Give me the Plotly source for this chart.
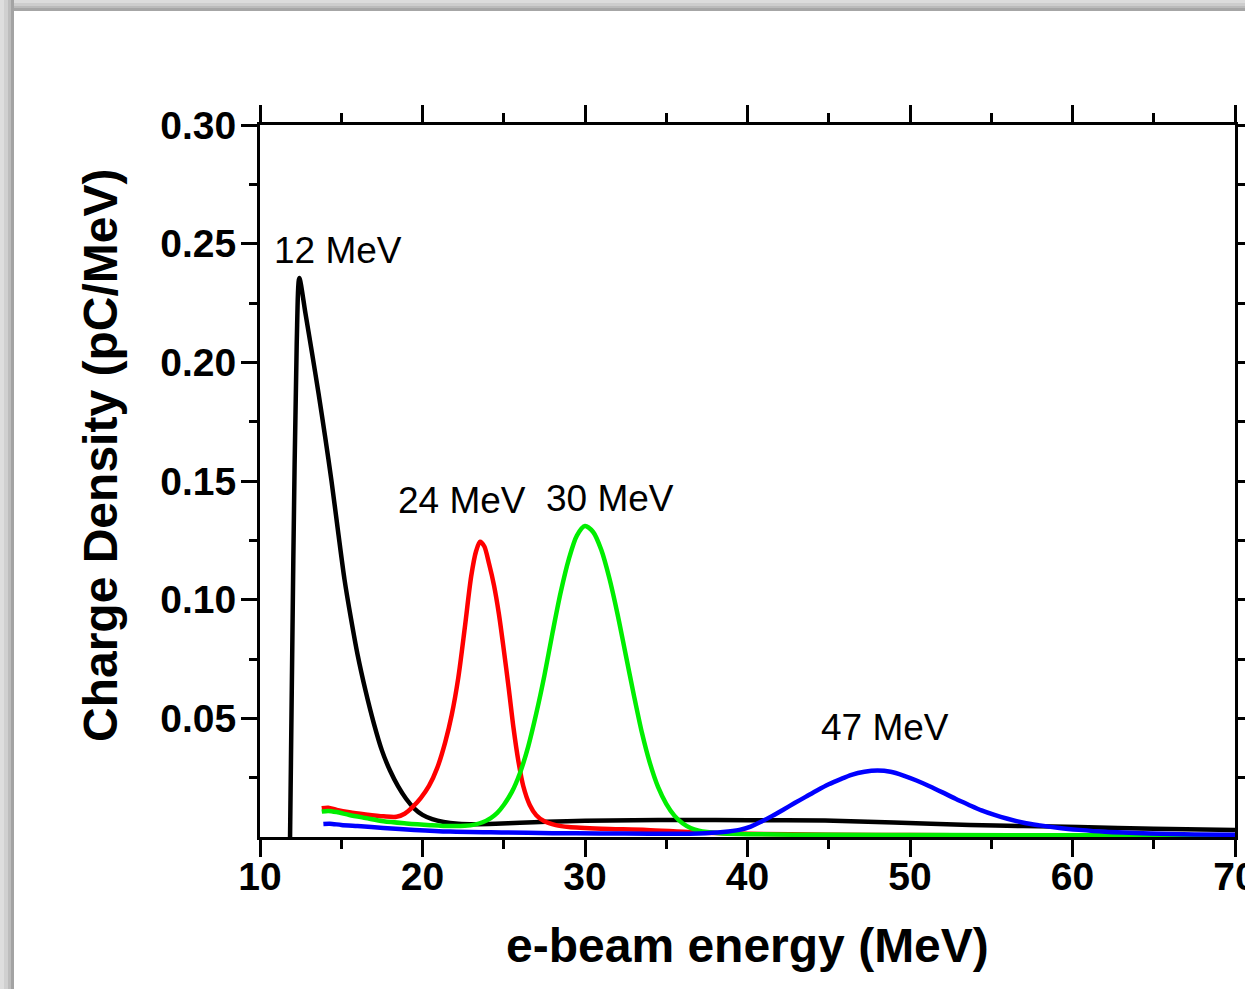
import plotly.graph_objects as go

# ---------------- data ----------------
black_x = [11.85, 12.05, 12.26, 12.42, 12.8, 13.2, 13.6, 14.0, 14.4, 14.8, 15.2, 15.6,
           16.0, 16.5, 17.0, 17.5, 18.0, 18.5, 19.0, 19.5, 20.0, 20.6, 21.3, 22.2, 23.2, 24.5,
           26.0, 27.6, 30.0, 33.0, 35.85, 40.0, 44.77, 49.0, 53.69, 57.0, 60.37, 65.0, 70.0]
black_y = [0.0, 0.1166, 0.208, 0.2355, 0.2205, 0.2040, 0.1870, 0.1690, 0.1500, 0.1290, 0.1085, 0.0920,
           0.0770, 0.0615, 0.0480, 0.0365, 0.0280, 0.0213, 0.0160, 0.0120, 0.0093, 0.0075, 0.0063, 0.0056, 0.0054, 0.0056,
           0.0060, 0.0064, 0.0068, 0.0071, 0.0072, 0.0071, 0.0069, 0.0061, 0.0051, 0.0046, 0.0042, 0.0035, 0.0029]

red_x = [13.8, 14.2, 14.72, 15.5, 16.5, 17.6, 18.4, 18.9, 19.4, 19.9, 20.4, 20.9, 21.4, 21.8,
         22.2, 22.6, 23.0, 23.3, 23.54, 23.8, 24.1, 24.4, 24.7, 25.0, 25.3, 25.6, 25.9, 26.2,
         26.6, 27.0, 27.5, 28.2, 29.0, 31.0, 33.8, 36.6, 40.0, 45.0, 50.0, 60.0, 70.0]
red_y = [0.0121, 0.0123, 0.0114, 0.0104, 0.0095, 0.0087, 0.0085, 0.0098, 0.0127, 0.0165, 0.0215, 0.0290, 0.0400, 0.0515,
         0.0670, 0.0880, 0.1100, 0.1205, 0.1244, 0.1225, 0.1150, 0.1060, 0.0940, 0.0790, 0.0630, 0.0460, 0.0320, 0.0215,
         0.0135, 0.0092, 0.0066, 0.0050, 0.0042, 0.0035, 0.0030, 0.0020, 0.0014, 0.0010, 0.0008, 0.0006, 0.0005]

green_x = [13.8, 14.2, 14.72, 15.5, 16.5, 17.6, 19.0, 20.5, 21.7, 22.6, 23.2, 23.7, 24.2, 24.6,
           25.0, 25.5, 26.0, 26.5, 27.0, 27.5, 28.0, 28.5, 29.0, 29.5, 30.0, 30.5, 31.0, 31.5,
           32.0, 32.5, 33.0, 33.5, 34.0, 34.5, 35.0, 35.5, 36.0, 36.5, 37.0, 37.5, 38.5, 40.0,
           45.0, 52.0, 60.0, 70.0]
green_y = [0.0107, 0.0110, 0.0105, 0.0093, 0.0080, 0.0066, 0.0057, 0.0050, 0.0046, 0.0047, 0.0052, 0.0062, 0.0080, 0.0102,
           0.0135, 0.0190, 0.0270, 0.0380, 0.0520, 0.0680, 0.0860, 0.1030, 0.1170, 0.1270, 0.1310, 0.1285, 0.1210, 0.1090,
           0.0940, 0.0770, 0.0600, 0.0440, 0.0310, 0.0210, 0.0140, 0.0090, 0.0058, 0.0038, 0.0027, 0.0021, 0.0015, 0.0012,
           0.0009, 0.0008, 0.0007, 0.0006]

blue_x = [13.9, 14.3, 15.0, 16.0, 17.6, 19.5, 21.7, 25.0, 28.0, 30.9, 34.0, 37.0, 38.5, 39.5,
          40.2, 40.8, 41.5, 42.2, 42.9, 43.6, 44.3, 45.0, 45.7, 46.4, 47.2, 48.0, 48.8, 49.6,
          50.4, 51.2, 52.0, 52.8, 53.6, 54.4, 55.2, 56.0, 57.0, 58.0, 59.2, 60.4, 62.0, 64.8,
          67.5, 70.0]
blue_y = [0.0055, 0.0056, 0.0051, 0.0046, 0.0038, 0.0030, 0.0023, 0.0019, 0.0016, 0.0015, 0.0014, 0.0015, 0.0021, 0.0030,
          0.0044, 0.0063, 0.0088, 0.0115, 0.0143, 0.0170, 0.0197, 0.0222, 0.0243, 0.0262, 0.0275, 0.0280, 0.0275, 0.0259,
          0.0238, 0.0214, 0.0188, 0.0161, 0.0136, 0.0112, 0.0093, 0.0077, 0.0060, 0.0049, 0.0038, 0.0030, 0.0022, 0.0015,
          0.0011, 0.0009]

peak_labels = ["12 MeV", "24 MeV", "30 MeV", "47 MeV"]
peak_label_x = [14.8, 22.43, 31.54, 48.46]
peak_label_y = [0.2473, 0.1419, 0.1428, 0.0463]

x_tickvals = [10, 20, 30, 40, 50, 60, 70]
x_minor = [15, 25, 35, 45, 55, 65]
y_tickvals = [0.05, 0.10, 0.15, 0.20, 0.25, 0.30]
y_ticktext = ["0.05", "0.10", "0.15", "0.20", "0.25", "0.30"]
y_minor = [0.025, 0.075, 0.125, 0.175, 0.225, 0.275]

x_title = "e-beam energy (MeV)"
y_title = "Charge Density (pC/MeV)"

# ---------------- figure ----------------
FONT = "Liberation Sans, Arial, sans-serif"
W, H = 1245, 989
ML, MR, MT, MB = 260, 10, 125, 152
PW, PH = W - ML - MR, H - MT - MB


def px_x(p):
    return (p - ML) / PW


def px_y(p):
    return (H - MB - p) / PH


fig = go.Figure()
for xs, ys, col, sm in [(black_x, black_y, "#000000", 0.8),
                        (red_x, red_y, "#ff0000", 0.8),
                        (green_x, green_y, "#00ee00", 0.8),
                        (blue_x, blue_y, "#0000ff", 0.8)]:
    fig.add_trace(go.Scatter(x=xs, y=ys, mode="lines",
                             line=dict(color=col, width=4.5, shape="spline", smoothing=sm),
                             showlegend=False, hoverinfo="x+y"))

for t, x, y in zip(peak_labels, peak_label_x, peak_label_y):
    fig.add_annotation(x=x, y=y, text=t, showarrow=False, xanchor="center", yanchor="middle",
                       font=dict(family=FONT, size=37, color="black"))

# axis titles
fig.add_annotation(xref="paper", yref="paper", x=0.5, y=px_y(945), text=x_title, showarrow=False,
                   xanchor="center", yanchor="middle",
                   font=dict(family=FONT, size=48, color="black", weight="bold"))
fig.add_annotation(xref="paper", yref="paper", x=px_x(100), y=px_y(456), text=y_title, showarrow=False,
                   xanchor="center", yanchor="middle", textangle=-90,
                   font=dict(family=FONT, size=48, color="black", weight="bold"))

# grey frame of the screenshot (top and left)
shapes = []
top_bands = [(0, 3, "#dcdcdc"), (3, 6, "#cdcdcd"), (6, 8, "#bbbbbb"), (8, 11, "#a6a6a6")]
for a, b, c in top_bands:
    shapes.append(dict(type="rect", xref="paper", yref="paper", layer="above",
                       x0=px_x(0), x1=px_x(W), y0=px_y(b), y1=px_y(a),
                       fillcolor=c, line=dict(width=0)))
left_bands = [(0, 4, "#dedede"), (4, 8, "#d0d0d0"), (8, 11, "#bdbdbd"), (11, 14, "#a3a3a3")]
for a, b, c in left_bands:
    shapes.append(dict(type="rect", xref="paper", yref="paper", layer="above",
                       x0=px_x(a), x1=px_x(b), y0=px_y(H), y1=px_y(0),
                       fillcolor=c, line=dict(width=0)))

fig.update_layout(
    width=W, height=H, autosize=False,
    margin=dict(l=ML, r=MR, t=MT, b=MB, pad=0, autoexpand=False),
    paper_bgcolor="white", plot_bgcolor="white",
    font=dict(family=FONT, color="black"),
    shapes=shapes,
    showlegend=False,
)

fig.update_xaxes(
    range=[10, 70], tickvals=x_tickvals, ticks="outside", ticklen=17, tickwidth=3,
    tickcolor="black", showline=True, linewidth=3, linecolor="black", mirror="allticks",
    showgrid=False, zeroline=False, automargin=False, ticklabelstandoff=-14,
    ticklabeloverflow="allow",
    tickfont=dict(family=FONT, size=39, color="black", weight="bold"),
    minor=dict(tickvals=x_minor, ticks="outside", ticklen=9, tickwidth=3, tickcolor="black", showgrid=False),
)
fig.update_yaxes(
    range=[0, 0.30], tickvals=y_tickvals, ticktext=y_ticktext, ticks="outside", ticklen=16, tickwidth=3,
    tickcolor="black", showline=True, linewidth=3, linecolor="black", mirror="allticks",
    showgrid=False, zeroline=False, automargin=False, ticklabelstandoff=-3,
    ticklabeloverflow="allow",
    tickfont=dict(family=FONT, size=39, color="black", weight="bold"),
    minor=dict(tickvals=y_minor, ticks="outside", ticklen=8, tickwidth=3, tickcolor="black", showgrid=False),
)

fig.write_html("out.html", config={"displayModeBar": False},
               post_script="document.body.style.margin='0';document.body.style.overflow='hidden';")
